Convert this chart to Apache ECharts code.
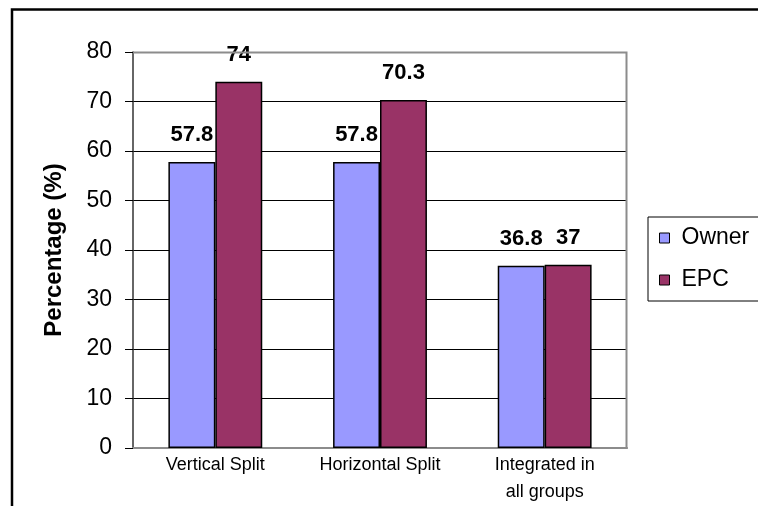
<!DOCTYPE html>
<html>
<head>
<meta charset="utf-8">
<script src="https://cdn.jsdelivr.net/npm/echarts@6/dist/echarts.min.js"></script>
<style>
  html, body { margin: 0; padding: 0; background: #fff; }
  #chart { width: 758px; height: 506px; }
</style>
</head>
<body>
<div id="chart"></div>
<script>
// Share of projects by split type, per party
const categories = ['Vertical Split', 'Horizontal Split', 'Integrated in\nall groups'];
const ownerValues = [57.8, 57.8, 36.8];
const epcValues = [74, 70.3, 37];
const seriesNames = ['Owner', 'EPC'];
const yTicks = [0, 10, 20, 30, 40, 50, 60, 70, 80];

const FONT = '"Liberation Sans", Arial, sans-serif';

const chart = echarts.init(document.getElementById('chart'), null, { renderer: 'canvas' });

const labelStyle = {
  show: true,
  position: 'top',
  distance: 16,
  fontFamily: FONT,
  fontSize: 22,
  fontWeight: 'bold',
  color: '#000',
  lineHeight: 22
};

chart.setOption({
  animation: false,
  backgroundColor: '#fff',
  textStyle: { fontFamily: FONT },
  graphic: [{
    type: 'rect',
    shape: { x: 12, y: 9.5, width: 900, height: 700 },
    style: { fill: 'none', stroke: '#000', lineWidth: 2.5 },
    silent: true,
    z: 100
  }, {
    // grey frame on the top and right of the plot area
    type: 'polyline',
    shape: { points: [[133, 52.5], [626.5, 52.5], [626.5, 449]] },
    style: { fill: 'none', stroke: '#8c8c8c', lineWidth: 2 },
    silent: true,
    z: 5
  }],
  grid: { left: 133, top: 52, right: 131, bottom: 57, containLabel: false },
  legend: {
    data: seriesNames,
    orient: 'vertical',
    left: 648,
    top: 217,
    padding: [9.5, 30, 9.5, 11],
    itemGap: 19,
    itemWidth: 10,
    itemHeight: 10,
    icon: 'rect',
    borderColor: '#000',
    borderWidth: 1,
    backgroundColor: '#fff',
    textStyle: {
      fontFamily: FONT,
      fontSize: 23,
      color: '#000',
      lineHeight: 23,
      padding: [0, 0, 0, 7]
    },
    itemStyle: { borderColor: '#000', borderWidth: 1 }
  },
  xAxis: {
    type: 'category',
    data: categories,
    axisLine: { show: true, lineStyle: { color: '#8c8c8c', width: 2 } },
    axisTick: { show: false },
    axisLabel: {
      fontFamily: FONT,
      fontSize: 18,
      color: '#000',
      lineHeight: 27,
      margin: 4
    },
    splitLine: { show: false }
  },
  yAxis: {
    type: 'value',
    min: 0,
    max: 80,
    interval: 10,
    name: 'Percentage (%)',
    nameLocation: 'middle',
    nameGap: 67,
    nameTextStyle: {
      fontFamily: FONT,
      fontSize: 24,
      fontWeight: 'bold',
      color: '#000'
    },
    axisLine: { show: true, lineStyle: { color: '#333', width: 1.5 } },
    axisTick: { show: true, inside: false, length: 8, lineStyle: { color: '#000', width: 1 } },
    axisLabel: {
      fontFamily: FONT,
      fontSize: 23,
      color: '#000',
      margin: 21,
      formatter: v => (yTicks.includes(v) ? String(v) : '')
    },
    splitLine: { show: true, lineStyle: { color: '#000', width: 1 } }
  },
  series: [{
    name: seriesNames[0],
    type: 'bar',
    data: ownerValues,
    barGap: '0%',
    barCategoryGap: '43%',
    itemStyle: { color: '#9999FF', borderColor: '#000', borderWidth: 1.5 },
    label: labelStyle,
    z: 3
  }, {
    name: seriesNames[1],
    type: 'bar',
    data: epcValues,
    barGap: '0%',
    barCategoryGap: '43%',
    itemStyle: { color: '#993366', borderColor: '#000', borderWidth: 1.5 },
    label: labelStyle,
    z: 3
  }]
});
</script>
</body>
</html>
